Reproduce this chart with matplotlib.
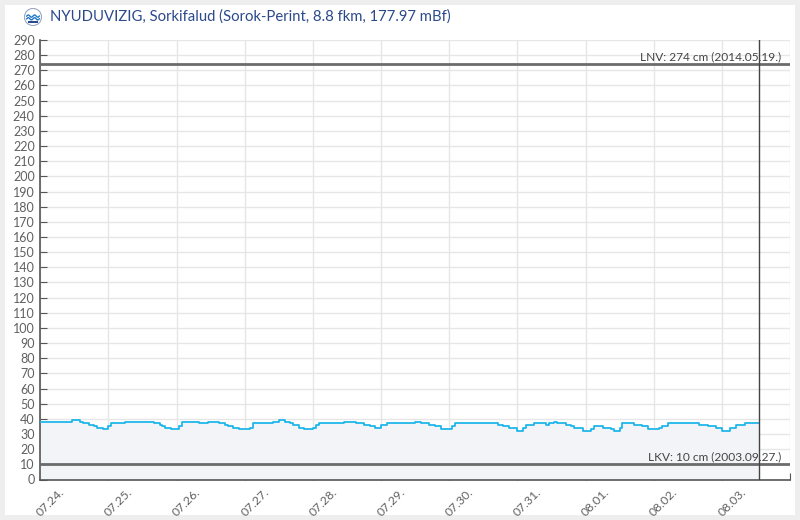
import matplotlib
matplotlib.use('Agg')
import matplotlib.pyplot as plt
import matplotlib.dates as mdates
import matplotlib.transforms as mtransforms
from matplotlib.patches import Rectangle, Circle
import numpy as np

plt.rcParams['font.family'] = ['Lato', 'DejaVu Sans']

# vízállás (cm), lépcsős adatsor: változási időpontok órában 07.24. 00:00-tól
change_hours = [0, 11, 14, 15, 17, 19, 20, 22, 24, 25, 30, 40, 42, 43, 44, 46,
                49, 50, 56, 59, 63, 65, 66, 68, 70, 74, 75, 82, 84, 86, 88, 89,
                91, 93, 96, 97, 98, 107, 111, 114, 116, 118, 120, 122, 132, 134,
                137, 139, 141, 145, 146, 161, 163, 165, 168, 170, 171, 174, 178,
                179, 181, 182, 185, 187, 188, 191, 194, 195, 198, 201, 202, 204,
                205, 209, 212, 214, 218, 219, 221, 232, 235, 238, 240, 243, 245,
                248]
levels = [38, 39, 38, 37, 36, 35, 34, 33, 35, 37, 38, 37, 36, 35, 34, 33,
          35, 38, 37, 38, 37, 36, 35, 34, 33, 34, 37, 38, 39, 38, 37, 36,
          34, 33, 34, 36, 37, 38, 37, 36, 35, 34, 36, 37, 38, 37,
          36, 35, 33, 35, 37, 36, 35, 34, 32, 34, 36, 37, 36,
          37, 38, 37, 36, 35, 34, 32, 33, 35, 34, 33, 32, 34,
          37, 36, 35, 33, 34, 35, 37, 36, 35, 34, 32, 34, 36,
          37]
end_hour = 253  # utolsó mérés / aktuális idő

lnv = 274
lkv = 10
lnv_label = 'LNV: 274 cm (2014.05.19.)'
lkv_label = 'LKV: 10 cm (2003.09.27.)'
title = 'NYUDUVIZIG, Sorkifalud (Sorok-Perint, 8.8 fkm, 177.97 mBf)'

start = np.datetime64('2024-07-24T00:00')
hour = np.timedelta64(1, 'h')
times = start + np.array(change_hours + [end_hour]) * hour
vals = levels + [levels[-1]]

fig = plt.figure(figsize=(8, 5.2), dpi=100)
fig.patch.set_facecolor('#eeeeee')
fig.patches.append(Rectangle((5 / 800, 5 / 520), 790 / 800, 510 / 520,
                             transform=fig.transFigure, fc='white', ec='none', zorder=-10))

ax = fig.add_axes([40.3 / 800, 1 - 479.5 / 520, 749.7 / 800, 439.5 / 520])
ax.set_facecolor('none')

ax.fill_between(times, vals, 0, step='post', color='#f3f4f8', zorder=1, lw=0)
ax.step(times, vals, where='post', color='#17b5ea', lw=1.25, zorder=3)

ax.axhline(lnv, color='#6b6b6b', lw=2, zorder=4)
ax.axhline(lkv, color='#6b6b6b', lw=2, zorder=4)
ax.axvline(times[-1], color='#444444', lw=1, zorder=5)
ax.text(0.9877, lnv + 1.5, lnv_label, transform=ax.get_yaxis_transform(),
        ha='right', va='bottom', fontsize=8.6, color='#444444', zorder=6)
ax.text(0.9877, lkv + 1.5, lkv_label, transform=ax.get_yaxis_transform(),
        ha='right', va='bottom', fontsize=8.6, color='#444444', zorder=6)

ax.set_xlim(start, start + 11 * 24 * hour)
ax.set_ylim(0, 290)
ax.set_yticks(np.arange(0, 291, 10))
ax.xaxis.set_major_locator(mdates.DayLocator())
ax.xaxis.set_major_formatter(mdates.DateFormatter('%m.%d.'))

ax.grid(True, color='#e6e6e6', lw=1)
ax.set_axisbelow(True)
for s in ['top', 'right']:
    ax.spines[s].set_visible(False)
for s in ['left', 'bottom']:
    ax.spines[s].set_color('#555555')
    ax.spines[s].set_linewidth(1.2)

ax.tick_params(axis='both', direction='in', length=5, color='#555555',
               labelcolor='#606060', labelsize=9)
ax.tick_params(axis='y', pad=4)
ax.tick_params(axis='x', pad=5, labelsize=8.8)
fig.canvas.draw()
offset = mtransforms.ScaledTranslation(10 / 100, 0, fig.dpi_scale_trans)
xlabels = ax.get_xticklabels()
for lab in xlabels:
    lab.set_rotation(45)
    lab.set_ha('center')
    lab.set_va('top')
    lab.set_transform(lab.get_transform() + offset)
xlabels[-1].set_visible(False)

# cím + logó
fig.text(50 / 800, 1 - 17 / 520, title, ha='left', va='center',
         fontsize=10.7, color='#2b4a8b')
logo = fig.add_axes([24 / 800, 1 - 26 / 520, 18 / 800, 18 / 520])
logo.set_xlim(-1, 1)
logo.set_ylim(-1, 1)
logo.set_aspect('equal')
logo.axis('off')
logo.add_patch(Circle((0, 0), 0.95, fc='white', ec='#9aa8c0', lw=0.8))
wx = np.linspace(-0.7, 0.7, 30)
logo.plot(wx, 0.1 + 0.12 * np.sin(wx * 9), color='#1f77c8', lw=1)
logo.plot(wx, -0.2 + 0.12 * np.sin(wx * 9), color='#1f77c8', lw=1)
logo.add_patch(Rectangle((-0.6, -0.62), 1.2, 0.2, fc='#2b4a8b', ec='none'))

fig.savefig('out.png', dpi=100, facecolor=fig.get_facecolor())
